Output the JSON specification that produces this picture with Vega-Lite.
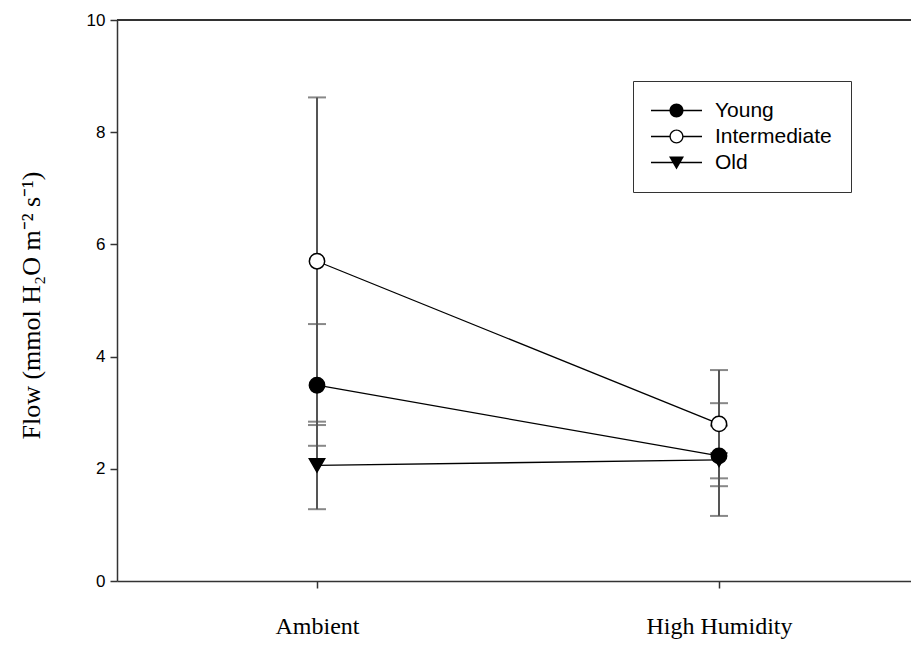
{
  "$schema": "https://vega.github.io/schema/vega-lite/v6.json",
  "width": 794,
  "height": 561,
  "autosize": "none",
  "padding": {"left": 117, "top": 20, "right": 0, "bottom": 65},
  "background": "white",
  "config": {
    "view": {"stroke": null},
    "axis": {"grid": false, "domainColor": "#333", "domainWidth": 1.5, "tickColor": "#333", "tickWidth": 1.5, "tickSize": 7},
    "axisY": {"labelFont": "Liberation Sans", "labelFontSize": 17, "labelColor": "black", "labelPadding": 5},
    "axisX": {"labelFont": "Liberation Serif", "labelFontSize": 24, "labelColor": "black", "labelPadding": 26, "labelBaseline": "top", "labelAngle": 0}
  },
  "data": {
    "values": [
      {"group": "Young", "condition": "Ambient", "mean": 3.49, "lo": 2.41, "hi": 4.58},
      {"group": "Young", "condition": "High Humidity", "mean": 2.23, "lo": 1.69, "hi": 2.77},
      {"group": "Intermediate", "condition": "Ambient", "mean": 5.70, "lo": 2.78, "hi": 8.62},
      {"group": "Intermediate", "condition": "High Humidity", "mean": 2.80, "lo": 1.83, "hi": 3.76},
      {"group": "Old", "condition": "Ambient", "mean": 2.06, "lo": 1.28, "hi": 2.84},
      {"group": "Old", "condition": "High Humidity", "mean": 2.16, "lo": 1.16, "hi": 3.17}
    ]
  },
  "encoding": {
    "x": {
      "field": "condition", "type": "ordinal",
      "scale": {"type": "point", "domain": ["Ambient", "High Humidity"], "padding": 0.4876, "align": 0.5102},
      "axis": {"title": null}
    }
  },
  "resolve": {"scale": {"shape": "independent", "fill": "independent"}},
  "layer": [
    {
      "mark": {"type": "rule", "color": "#333", "strokeWidth": 1.5},
      "encoding": {"x": null, "y": {"datum": 10, "type": "quantitative"}}
    },
    {
      "mark": {"type": "rule", "color": "#555", "strokeWidth": 2},
      "encoding": {
        "y": {
          "field": "lo", "type": "quantitative",
          "scale": {"domain": [0, 10], "nice": false},
          "axis": {
            "values": [0, 2, 4, 6, 8, 10], "format": "d",
            "title": "Flow (mmol H₂O m⁻² s⁻¹)", "titleFont": "Liberation Serif", "titleFontSize": 26,
            "titleFontWeight": "normal", "titleColor": "black", "titleX": -78, "titleY": 285, "titleBaseline": "alphabetic", "titleAngle": -90, "titleAlign": "center"
          }
        },
        "y2": {"field": "hi"}
      }
    },
    {
      "mark": {"type": "tick", "orient": "horizontal", "size": 18, "thickness": 2, "color": "#555"},
      "encoding": {"y": {"field": "lo", "type": "quantitative"}}
    },
    {
      "mark": {"type": "tick", "orient": "horizontal", "size": 18, "thickness": 2, "color": "#555"},
      "encoding": {"y": {"field": "hi", "type": "quantitative"}}
    },
    {
      "mark": {"type": "line", "color": "black", "strokeWidth": 1.3},
      "encoding": {
        "y": {"field": "mean", "type": "quantitative"},
        "detail": {"field": "group"}
      }
    },
    {
      "mark": {"type": "point", "size": 235, "stroke": "black", "strokeWidth": 1.5, "fillOpacity": 1, "opacity": 1, "strokeOpacity": 1},
      "encoding": {
        "y": {"field": "mean", "type": "quantitative"},
        "fill": {
          "field": "group", "type": "nominal",
          "scale": {"domain": ["Young", "Intermediate", "Old"], "range": ["black", "white", "black"]},
          "legend": null
        },
        "shape": {
          "field": "group", "type": "nominal",
          "scale": {"domain": ["Young", "Intermediate", "Old"], "range": ["circle", "circle", "triangle-down"]},
          "legend": null
        }
      }
    },
    {
      "transform": [{"filter": "false"}],
      "mark": {"type": "point", "filled": true, "color": "black", "opacity": 1},
      "encoding": {
        "y": {"field": "mean", "type": "quantitative"},
        "shape": {
          "field": "group", "type": "nominal",
          "scale": {
            "domain": ["Young", "Intermediate", "Old"],
            "range": [
              "M-2.55,-0.07H2.55V0.07H-2.55Z M0.7,0A0.7,0.7,0,1,1,-0.7,0A0.7,0.7,0,1,1,0.7,0Z",
              "M-2.55,-0.07H-0.62V0.07H-2.55Z M0.62,-0.07H2.55V0.07H0.62Z M0.7,0A0.7,0.7,0,1,1,-0.7,0A0.7,0.7,0,1,1,0.7,0Z M0.57,0A0.57,0.57,0,1,0,-0.57,0A0.57,0.57,0,1,0,0.57,0Z",
              "M-2.55,-0.07H2.55V0.07H-2.55Z M-0.75,-0.6H0.75L0,0.7Z"
            ]
          },
          "legend": {
            "orient": "none", "legendX": 516, "legendY": 61, "title": null,
            "strokeColor": "#333", "padding": 19, "symbolOffset": 14, "labelOffset": 28, "rowPadding": 4,
            "symbolSize": 400, "symbolFillColor": "black", "symbolStrokeWidth": 0, "symbolOpacity": 1,
            "labelFont": "Liberation Sans", "labelFontSize": 21, "labelColor": "black"
          }
        }
      }
    }
  ]
}
